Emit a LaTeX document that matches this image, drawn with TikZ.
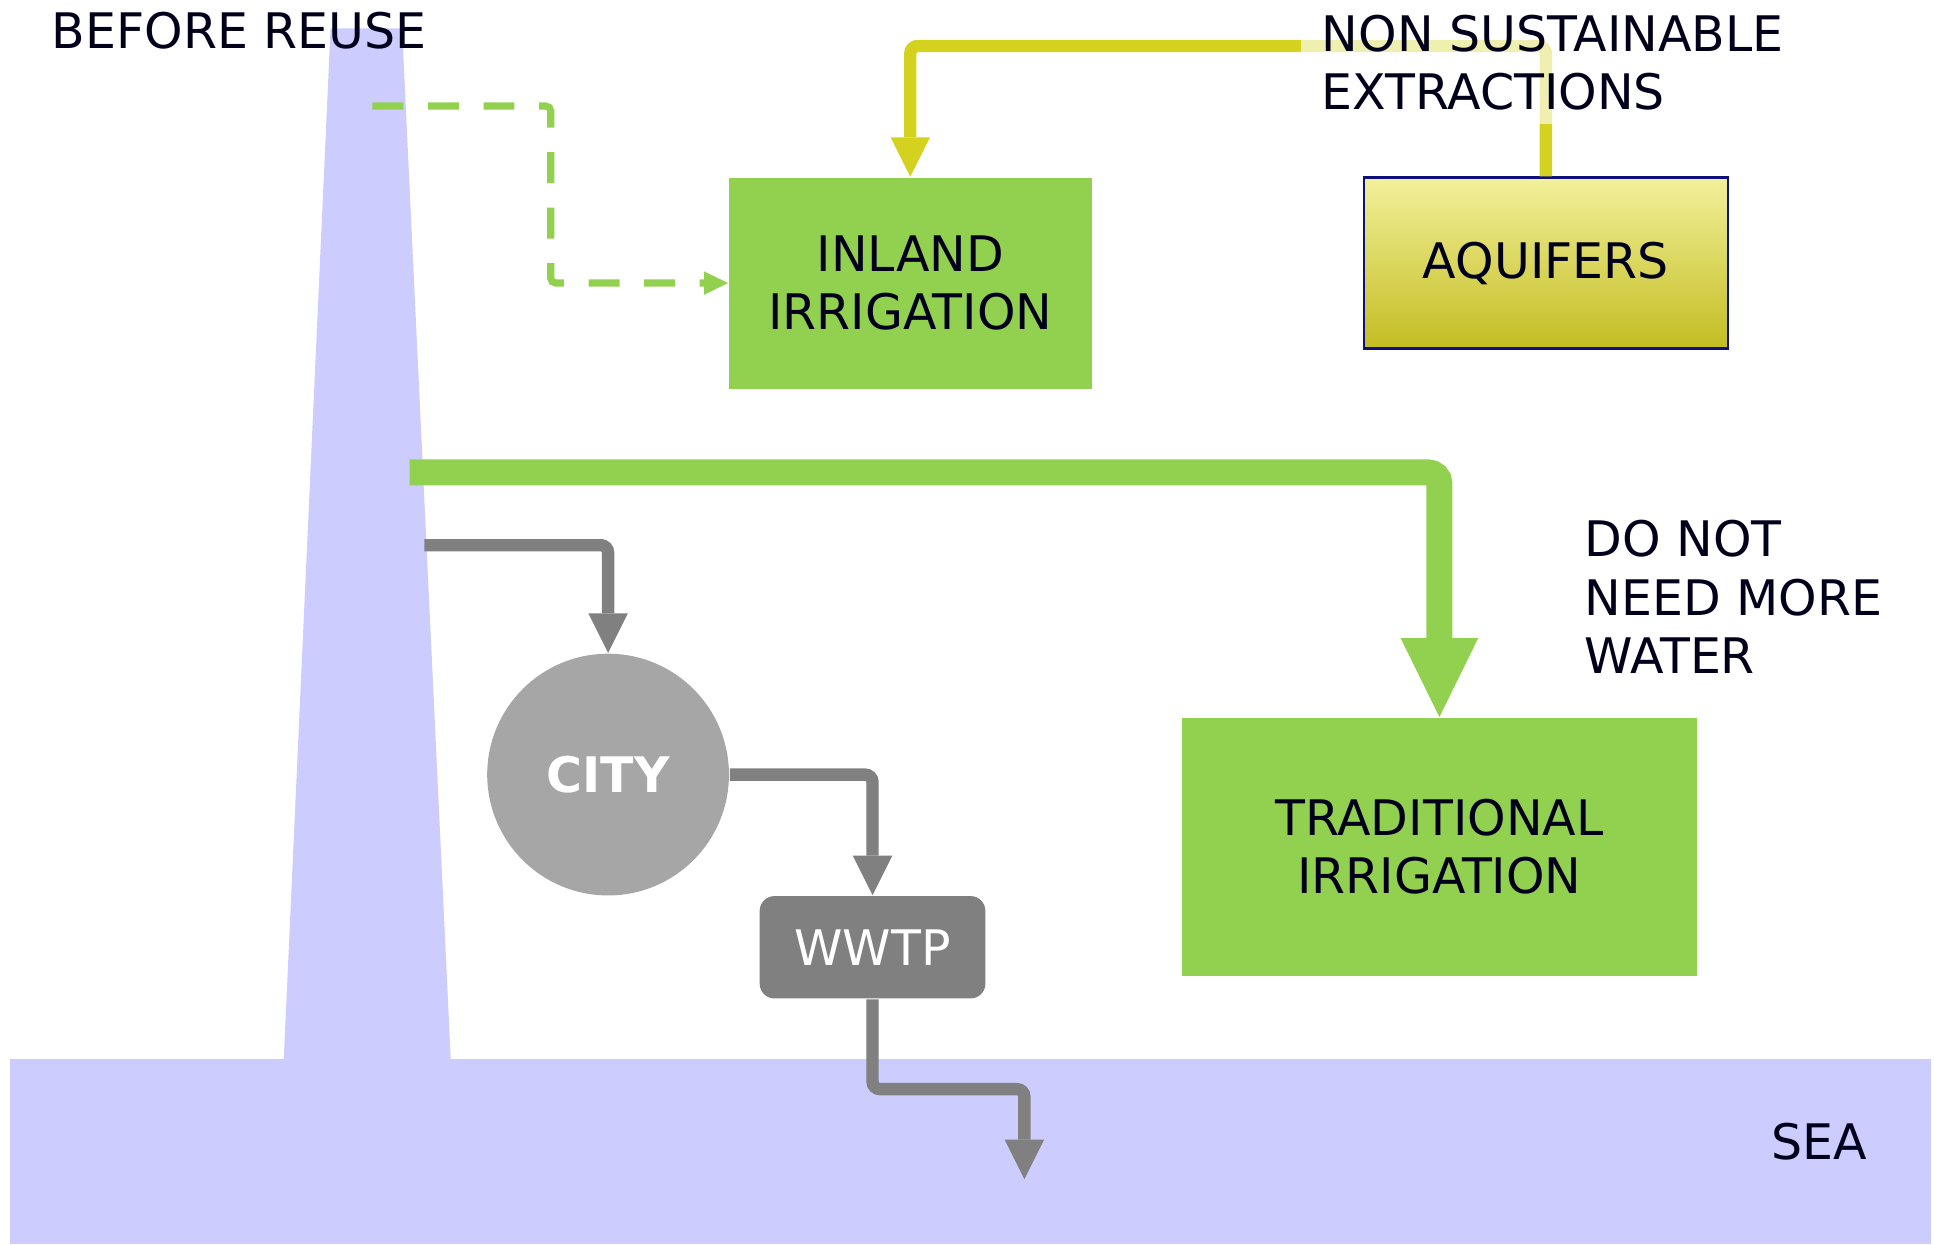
\documentclass[tikz,border=0pt]{standalone}
\usepackage{fontspec}
\setmainfont{DejaVu Sans}
\usetikzlibrary{arrows.meta}
\definecolor{seablue}{HTML}{CCCCFF}
\definecolor{leafgreen}{HTML}{92D050}
\definecolor{mustard}{HTML}{D4D21E}
\definecolor{ink}{HTML}{00001A}
\definecolor{cityg}{HTML}{A6A6A6}
\definecolor{plantg}{HTML}{808080}
\definecolor{rim}{HTML}{10107A}
\definecolor{aqtop}{HTML}{F2F09A}
\definecolor{aqmid}{HTML}{E9E566}
\definecolor{aqbot}{HTML}{C3BD22}

\begin{document}
\begin{tikzpicture}[y=-1cm,
    lbl/.style={font=\fontsize{11.3}{13.4}\selectfont, text=ink, inner sep=0pt},
    field/.style={lbl, fill=leafgreen, align=center},
    pipe/.style={draw=plantg, line width=1mm, rounded corners=0.6mm,
      -{Triangle[length=3.2mm,width=3.2mm,line width=0pt]}}]
  \useasboundingbox (0,0) rectangle (15.68,10.086);
  \fill[seablue] (0.08,8.585) rectangle (15.655,10.086);
  \fill[seablue] (2.68,0.23) -- (3.26,0.23) -- (3.655,8.6) -- (2.30,8.6) -- cycle;

  \node[field, minimum width=2.94cm, minimum height=1.71cm] (inland) at (7.38,2.295) {INLAND\\IRRIGATION};
  \node[lbl, draw=rim, line width=0.2mm, top color=aqtop, middle color=aqmid, bottom color=aqbot,
    minimum width=2.95cm, minimum height=1.385cm] (aquifers) at (12.533,2.133) {AQUIFERS};
  \node[field, minimum width=4.18cm, minimum height=2.09cm] (trad) at (11.67,6.865) {TRADITIONAL\\IRRIGATION};
  \node[circle, fill=cityg, minimum size=1.96cm, inner sep=0pt, text=white,
    font=\fontsize{11.3}{13.4}\selectfont\bfseries] (city) at (4.93,6.28) {CITY};
  \node[lbl, text=white, fill=plantg, rounded corners=1.2mm, minimum width=1.83cm,
    minimum height=0.83cm] (wwtp) at (7.074,7.68) {WWTP};

  \coordinate (tapA) at (3.02,0.86);
  \coordinate (tapB) at (3.32,3.83);
  \coordinate (tapC) at (3.44,4.42);
  \coordinate (dashturn) at (4.465,0.86);
  \coordinate (wellline) at (7.4,0.373);
  \coordinate (seaturn) at (8.305,8.83);
  \coordinate (outfall) at (8.305,9.56);

  \draw[leafgreen, line width=0.58mm, dash pattern=on 2.5mm off 2mm, rounded corners=0.4mm,
    -{Triangle[length=1.95mm,width=1.9mm,line width=0pt]}] (tapA) -- (dashturn) |- (inland.west);
  \draw[pipe, draw=mustard] (aquifers.north) -- (aquifers.north |- wellline) -| (inland.north);
  \draw[leafgreen, line width=2.1mm, rounded corners=0.9mm,
    -{Triangle[length=6.4mm,width=6.3mm,line width=0pt]}] (tapB) -| (trad.north);
  \draw[pipe] (tapC) -| (city.north);
  \draw[pipe] (city.east) -| (wwtp.north);
  \draw[pipe] (wwtp.south) |- (seaturn) -- (outfall);

  \node[lbl, anchor=base] (before) at (1.94,0.392) {BEFORE REUSE};
  \node[lbl, anchor=north west, align=left] (nodemand) at (12.84,4.214) {DO NOT\\NEED MORE\\WATER};
  \node[lbl, anchor=base] (sea) at (14.75,9.402) {SEA};
  \node[lbl, anchor=north west, align=left, fill=white, fill opacity=0.65, text opacity=1,
    inner xsep=1.7mm, inner ysep=1.12mm] (extract) at (10.54,0) {NON SUSTAINABLE\\EXTRACTIONS};
\end{tikzpicture}
\end{document}
